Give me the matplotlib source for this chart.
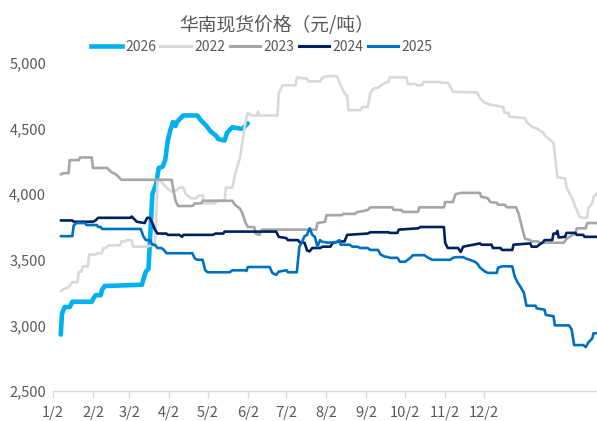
import matplotlib
matplotlib.use("Agg")
import matplotlib.pyplot as plt
from matplotlib.ticker import FuncFormatter
from matplotlib.lines import Line2D

# ---- data (day offset from Jan 2, price yuan/ton) ----
d2026 = [6, 7, 9, 13, 15, 30, 31, 33, 37, 38, 40, 69, 70, 72, 74, 76, 77, 80, 82, 85, 87, 89, 91, 93, 95, 96, 98, 101, 112, 114, 119, 122, 127, 128, 133, 135, 139, 145, 147, 151]
v2026 = [2930, 3090, 3140, 3140, 3180, 3180, 3200, 3230, 3230, 3270, 3300, 3310, 3350, 3410, 3430, 3800, 4000, 4080, 4200, 4210, 4260, 4410, 4490, 4550, 4520, 4550, 4570, 4600, 4600, 4570, 4520, 4480, 4440, 4420, 4410, 4470, 4510, 4500, 4500, 4540]

d2022 = [6, 9, 12, 15, 19, 20, 22, 23, 27, 28, 33, 34, 38, 39, 41, 43, 52, 53, 56, 57, 61, 62, 72, 77, 79, 80, 81, 83, 86, 89, 92, 96, 98, 101, 103, 107, 111, 113, 116, 117, 125, 128, 133, 134, 139, 141, 145, 149, 151, 154, 158, 159, 160, 174, 175, 178, 188, 189, 197, 198, 207, 209, 213, 220, 221, 223, 226, 228, 229, 238, 240, 244, 246, 248, 250, 252, 254, 258, 260, 261, 274, 275, 281, 282, 286, 287, 300, 301, 306, 308, 310, 329, 331, 335, 340, 349, 350, 353, 354, 366, 367, 372, 374, 380, 381, 387, 388, 391, 397, 398, 401, 402, 405, 406, 408, 410, 414, 415, 418, 419, 422]
v2022 = [3260, 3280, 3290, 3330, 3330, 3410, 3410, 3450, 3450, 3540, 3540, 3550, 3550, 3590, 3590, 3610, 3610, 3640, 3640, 3650, 3650, 3600, 3600, 3610, 3630, 3830, 4100, 4110, 4070, 4040, 4020, 4030, 4050, 4050, 4000, 3970, 3970, 3990, 3990, 3930, 3930, 3950, 3950, 4050, 4050, 4150, 4280, 4540, 4620, 4600, 4600, 4630, 4600, 4600, 4770, 4830, 4830, 4890, 4880, 4860, 4860, 4890, 4900, 4900, 4880, 4830, 4770, 4750, 4640, 4640, 4665, 4665, 4770, 4800, 4810, 4810, 4830, 4850, 4855, 4890, 4890, 4840, 4840, 4830, 4830, 4855, 4855, 4850, 4850, 4820, 4780, 4775, 4730, 4695, 4680, 4665, 4620, 4620, 4590, 4580, 4550, 4510, 4505, 4470, 4450, 4400, 4390, 4130, 4120, 4055, 3995, 3980, 3900, 3880, 3830, 3820, 3820, 3895, 3930, 3980, 4010]

d2023 = [6, 8, 12, 13, 20, 21, 30, 31, 42, 45, 49, 53, 92, 93, 95, 97, 108, 110, 115, 116, 139, 141, 145, 147, 149, 151, 156, 157, 160, 162, 204, 205, 211, 212, 224, 225, 234, 236, 240, 244, 246, 263, 264, 270, 271, 283, 284, 303, 304, 310, 312, 316, 331, 332, 337, 339, 344, 345, 350, 352, 359, 361, 364, 366, 370, 371, 376, 377, 396, 398, 403, 405, 406, 413, 414, 422]
v2023 = [4150, 4160, 4160, 4260, 4260, 4280, 4280, 4200, 4200, 4170, 4150, 4110, 4110, 4050, 3950, 3910, 3910, 3930, 3930, 3950, 3950, 3920, 3890, 3850, 3790, 3750, 3750, 3700, 3690, 3730, 3730, 3780, 3790, 3840, 3840, 3850, 3850, 3865, 3870, 3880, 3900, 3900, 3880, 3880, 3865, 3865, 3900, 3900, 3940, 3940, 4000, 4010, 4010, 3980, 3970, 3940, 3935, 3920, 3920, 3900, 3900, 3850, 3730, 3660, 3650, 3640, 3640, 3630, 3630, 3660, 3690, 3700, 3740, 3740, 3780, 3780]

d2024 = [6, 15, 16, 31, 33, 35, 60, 61, 63, 65, 71, 73, 75, 77, 79, 81, 88, 89, 98, 100, 101, 124, 126, 132, 133, 173, 175, 181, 182, 190, 191, 195, 197, 199, 201, 207, 209, 215, 217, 222, 226, 228, 244, 246, 260, 261, 267, 268, 283, 285, 303, 304, 306, 314, 316, 318, 331, 332, 340, 341, 347, 348, 356, 357, 370, 371, 375, 377, 380, 381, 387, 388, 390, 391, 392, 397, 398, 405, 406, 411, 412, 422]
v2024 = [3800, 3800, 3790, 3790, 3800, 3820, 3820, 3830, 3810, 3790, 3780, 3820, 3820, 3780, 3730, 3700, 3700, 3690, 3690, 3675, 3690, 3690, 3700, 3700, 3715, 3715, 3675, 3665, 3650, 3650, 3635, 3630, 3570, 3565, 3590, 3590, 3600, 3600, 3630, 3640, 3640, 3690, 3700, 3710, 3710, 3705, 3705, 3730, 3740, 3750, 3750, 3630, 3590, 3590, 3560, 3600, 3625, 3615, 3615, 3590, 3590, 3575, 3575, 3615, 3625, 3600, 3600, 3615, 3635, 3650, 3650, 3700, 3700, 3720, 3670, 3675, 3705, 3705, 3690, 3690, 3675, 3675]

d2025 = [6, 15, 16, 18, 25, 26, 34, 35, 37, 38, 68, 70, 72, 75, 77, 79, 81, 84, 86, 88, 108, 110, 112, 116, 118, 120, 137, 139, 149, 150, 151, 168, 170, 173, 175, 181, 182, 189, 191, 193, 195, 197, 198, 199, 201, 203, 205, 207, 209, 211, 213, 220, 222, 223, 230, 232, 236, 238, 244, 246, 252, 254, 257, 260, 261, 267, 269, 273, 275, 277, 279, 288, 290, 292, 294, 308, 310, 312, 318, 320, 323, 327, 329, 331, 335, 337, 344, 345, 348, 356, 358, 360, 362, 365, 367, 374, 375, 381, 382, 388, 389, 400, 402, 404, 411, 413, 415, 418, 419, 422]
v2025 = [3680, 3680, 3760, 3780, 3780, 3765, 3765, 3750, 3750, 3735, 3735, 3680, 3650, 3650, 3615, 3615, 3590, 3590, 3575, 3550, 3550, 3510, 3500, 3500, 3420, 3405, 3405, 3420, 3420, 3415, 3445, 3445, 3400, 3385, 3410, 3420, 3405, 3405, 3600, 3635, 3680, 3690, 3720, 3740, 3690, 3675, 3600, 3650, 3635, 3635, 3630, 3635, 3650, 3615, 3615, 3600, 3600, 3590, 3590, 3575, 3575, 3540, 3525, 3520, 3515, 3515, 3485, 3485, 3500, 3515, 3535, 3535, 3520, 3510, 3500, 3500, 3515, 3520, 3520, 3510, 3500, 3485, 3470, 3440, 3410, 3400, 3400, 3440, 3450, 3450, 3370, 3330, 3300, 3250, 3150, 3150, 3130, 3120, 3080, 3070, 3000, 3000, 2970, 2850, 2850, 2835, 2870, 2900, 2940, 2940]

month_ticks = [0, 31, 59, 90, 120, 151, 181, 212, 243, 273, 304, 334]
month_labels = ["1/2", "2/2", "3/2", "4/2", "5/2", "6/2", "7/2", "8/2", "9/2", "10/2", "11/2", "12/2"]
y_ticks = [2500, 3000, 3500, 4000, 4500, 5000]

series = [
    ("2026", d2026, v2026, "#00B0F0", 3.3),
    ("2022", d2022, v2022, "#D9D9D9", 1.9),
    ("2023", d2023, v2023, "#A6A6A6", 1.9),
    ("2024", d2024, v2024, "#002060", 1.9),
    ("2025", d2025, v2025, "#0070C0", 1.9),
]

plt.rcParams["font.family"] = ["Noto Sans CJK SC", "DejaVu Sans"]
TXT = "#595959"

fig = plt.figure(figsize=(5.97, 4.21), dpi=100)
ax = fig.add_axes([53/597, 30/421, 1 - 53/597, 328/421])

zs = {"2026": 2, "2022": 3, "2023": 4, "2024": 5, "2025": 6}
for name, d, v, c, lw in series:
    ax.plot(d, v, color=c, lw=lw, solid_joinstyle="round", solid_capstyle="round", zorder=zs[name], label=name)

ax.set_xlim(0, 421.7)
ax.set_ylim(2500, 5000)
ax.set_yticks(y_ticks)
ax.yaxis.set_major_formatter(FuncFormatter(lambda v, p: f"{int(v):,}"))
ax.set_xticks(month_ticks)
ax.set_xticklabels(month_labels)

for s in ["top", "right", "left"]:
    ax.spines[s].set_visible(False)
ax.spines["bottom"].set_color("#D9D9D9")
ax.spines["bottom"].set_linewidth(1.0)
ax.tick_params(axis="y", length=0, pad=5, labelsize=10.5, labelcolor=TXT)
ax.tick_params(axis="x", length=5, width=1.0, color="#D9D9D9", pad=6, labelsize=10.5, labelcolor=TXT)

fig.text(277/597, 1 - 26/421, "华南现货价格（元/吨）", ha="center", va="center",
         fontsize=13.5, color=TXT)

handles = [Line2D([], [], color=c, lw=(3.3 if n == "2026" else 2.2)) for n, d, v, c, lw in series]
labels = [n for n, *_ in series]
leg = fig.legend(handles, labels, loc="center", bbox_to_anchor=(262/597, 1 - 47/421), ncol=5,
                 frameon=False, fontsize=10, handlelength=2.2, handletextpad=0.25,
                 columnspacing=0.3, borderpad=0, borderaxespad=0)
for t in leg.get_texts():
    t.set_color(TXT)

fig.savefig("out.png", dpi=100)
